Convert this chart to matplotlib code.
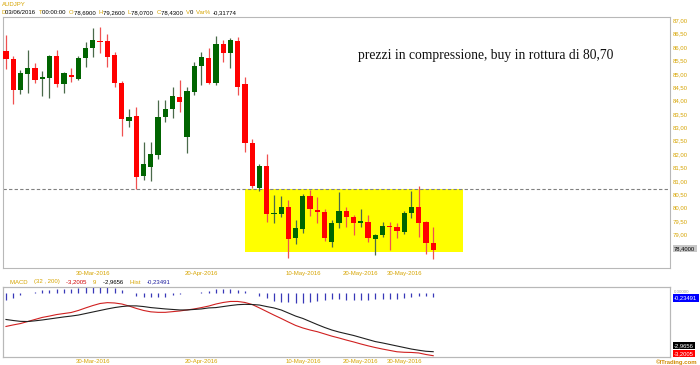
import numpy as np
import matplotlib
matplotlib.use("Agg")
import matplotlib.pyplot as plt
from matplotlib.patches import Rectangle
from matplotlib.ticker import FuncFormatter

# AUDJPY daily candles, 14-Mar-2016 .. 03-Jun-2016
opens = [85.87, 85.54, 84.39, 85.00, 85.21, 84.80, 84.83, 85.67, 84.61, 84.96,
         84.80, 85.60, 85.96, 86.23, 86.23, 85.71, 84.67, 83.25, 83.43, 81.19,
         81.51, 81.97, 83.38, 83.68, 84.15, 82.65, 84.33, 85.31, 85.60, 84.67,
         86.12, 85.79, 86.24, 84.61, 82.40, 80.74, 81.57, 79.75, 79.76, 80.03,
         78.85, 79.20, 80.45, 79.91, 79.85, 78.73, 79.44, 79.88, 79.64, 79.44,
         79.47, 78.82, 78.98, 79.31, 79.29, 79.10, 79.79, 80.01, 79.47, 78.69]
highs = [86.45, 85.67, 85.14, 85.89, 85.39, 85.12, 85.69, 85.89, 85.08, 85.21,
         85.67, 86.20, 86.70, 86.74, 86.49, 85.83, 84.75, 83.68, 83.75, 82.46,
         82.46, 84.02, 84.02, 84.52, 84.77, 84.52, 85.46, 85.81, 85.96, 86.42,
         86.27, 86.33, 86.37, 84.89, 82.55, 81.63, 81.99, 80.47, 80.45, 80.28,
         79.54, 80.50, 80.66, 80.41, 79.94, 79.54, 80.60, 80.01, 79.72, 79.94,
         79.72, 79.03, 79.47, 79.47, 79.41, 79.88, 80.63, 80.81, 79.50, 79.26]
lows = [85.18, 83.87, 84.25, 84.30, 84.65, 84.17, 84.09, 84.50, 84.30, 84.71,
        84.78, 85.27, 85.64, 85.77, 85.27, 84.50, 82.68, 83.00, 80.68, 81.03,
        81.01, 81.81, 83.21, 83.34, 83.59, 82.03, 84.21, 84.58, 84.62, 84.58,
        85.46, 85.23, 84.21, 82.09, 80.72, 80.63, 79.47, 79.41, 79.66, 78.11,
        78.64, 79.04, 79.69, 79.41, 78.77, 78.54, 79.23, 79.26, 78.98, 79.26,
        78.73, 78.23, 78.91, 78.42, 78.85, 79.03, 79.60, 78.91, 78.27, 78.07]
closes = [85.56, 84.40, 85.02, 85.21, 84.77, 84.87, 85.67, 84.61, 85.02, 84.87,
          85.60, 85.96, 86.27, 86.18, 85.64, 84.65, 83.30, 83.40, 81.16, 81.62,
          81.99, 83.40, 83.68, 84.18, 83.96, 84.36, 85.31, 85.62, 84.67, 86.12,
          85.79, 86.27, 84.52, 82.43, 80.82, 81.57, 79.75, 79.79, 80.03, 78.83,
          79.23, 80.45, 79.94, 79.85, 78.85, 79.44, 79.88, 79.64, 79.44, 79.51,
          78.85, 78.98, 79.31, 79.26, 79.13, 79.79, 80.01, 79.44, 78.69, 78.43]

# MACD (32, 200) and signal (9)
macd = [-1.48, -1.39, -1.31, -1.19, -1.07, -0.95, -0.87, -0.78, -0.72, -0.66,
        -0.54, -0.39, -0.25, -0.13, -0.08, -0.10, -0.16, -0.28, -0.42, -0.54,
        -0.62, -0.65, -0.65, -0.61, -0.57, -0.51, -0.45, -0.37, -0.28, -0.16,
        -0.07, -0.01, -0.01, -0.07, -0.19, -0.39, -0.60, -0.81, -1.01, -1.22,
        -1.42, -1.57, -1.69, -1.79, -1.92, -2.05, -2.16, -2.28, -2.39, -2.51,
        -2.62, -2.72, -2.81, -2.89, -2.97, -3.00, -3.01, -3.04, -3.13, -3.2005]
signal = [-1.07, -1.13, -1.18, -1.19, -1.15, -1.10, -1.04, -0.98, -0.92, -0.87,
          -0.81, -0.72, -0.63, -0.54, -0.45, -0.37, -0.31, -0.27, -0.27, -0.31,
          -0.37, -0.41, -0.45, -0.48, -0.51, -0.51, -0.48, -0.45, -0.39, -0.37,
          -0.31, -0.25, -0.20, -0.18, -0.19, -0.22, -0.31, -0.39, -0.51, -0.69,
          -0.87, -1.01, -1.19, -1.37, -1.54, -1.69, -1.81, -1.91, -2.01, -2.13,
          -2.25, -2.37, -2.45, -2.54, -2.63, -2.72, -2.81, -2.88, -2.94, -2.9656]

tick_idx = [12, 27, 41, 49, 55]
tick_labels = ["30-Mar-2016", "20-Apr-2016", "10-May-2016", "20-May-2016", "30-May-2016"]

breakout_level = 80.70
range_low = 78.33
range_start, range_end = 33.0, 63.1

GOLD = '#d6a400'
FRAME = '#b8b8b8'
SANS = ['Liberation Sans', 'DejaVu Sans']

plt.rcParams['font.family'] = SANS

fig = plt.figure(figsize=(7, 3.65), dpi=100)
W, H = 700, 365


def px_axes(x0, y0, x1, y1):
    return fig.add_axes([x0 / W, 1 - y1 / H, (x1 - x0) / W, (y1 - y0) / H])


ax = px_axes(3, 17, 670, 268)
ax2 = px_axes(3, 287, 670, 357)

# --- price panel
ax.add_patch(Rectangle((range_start, range_low), range_end - range_start,
                       breakout_level - range_low, facecolor='#ffff00',
                       edgecolor='none', zorder=0))
ax.axhline(breakout_level, color='#808080', lw=0.8, ls=(0, (3, 2)), zorder=1)

for i in range(len(opens)):
    o, h, l, c = opens[i], highs[i], lows[i], closes[i]
    up = c >= o
    body = '#006400' if up else '#ff0000'
    wick = '#4a6a4a' if up else '#f05050'
    ax.vlines(i, l, h, color=wick, lw=0.9, zorder=2)
    ax.add_patch(Rectangle((i - 0.36, min(o, c)), 0.72, max(abs(c - o), 0.03),
                           facecolor=body, edgecolor='none', zorder=3))

ax.set_xlim(-0.41, 91.7)
ax.set_ylim(77.743, 87.126)
ax.yaxis.tick_right()
ax.set_yticks(np.arange(79, 87.01, 0.5))
ax.yaxis.set_major_formatter(FuncFormatter(lambda v, p: f"{v:.2f}".replace('.', ',')))
ax.tick_params(axis='y', length=0, pad=2, labelsize=4.3, labelcolor=GOLD)
ax.set_xticks(tick_idx)
ax.set_xticklabels(tick_labels)
ax.tick_params(axis='x', length=0, pad=2.5, labelsize=4.3, labelcolor=GOLD)
for s in ax.spines.values():
    s.set_color(FRAME)
    s.set_linewidth(0.8)

ax.text(0.7235, 0.846, "prezzi in compressione, buy in rottura di 80,70",
        transform=ax.transAxes, ha='center', va='center', fontsize=9.8,
        family=['Liberation Serif', 'DejaVu Serif'], color='#111111')

# --- MACD panel
x = np.arange(len(macd))
ax2.plot(x, macd, color='#d02020', lw=0.8)
ax2.plot(x, signal, color='#202020', lw=0.8)
ax2.set_xlim(-0.41, 91.7)
ax2.set_ylim(-3.277, 0.84)

axh = ax2.twinx()
hist = np.array(macd) - np.array(signal)
axh.vlines(x, 0, hist, color='#3838b8', lw=0.9)
axh.set_ylim(-3.6, 0.34)
axh.set_yticks([])

ax2.set_yticks([])
ax2.set_xticks(tick_idx)
ax2.set_xticklabels(tick_labels)
ax2.tick_params(axis='x', length=0, pad=1.5, labelsize=4.3, labelcolor=GOLD)
for a in (ax2, axh):
    for s in a.spines.values():
        s.set_color(FRAME)
        s.set_linewidth(0.8)

# --- header texts
fig.text(2 / W, 1 - 4.5 / H, "AUDJPY", fontsize=4.3, color=GOLD, va='center')

renderer = fig.canvas.get_renderer()


def text_run(x_px, y_px, pieces, size):
    xp = x_px
    for s, col in pieces:
        t = fig.text(xp / W, 1 - y_px / H, s, fontsize=size, color=col, va='center')
        xp += t.get_window_extent(renderer).width


text_run(1, 12.5, [("D", GOLD), ("03/06/2016  ", 'black'), ("T", GOLD), ("00:00:00  ", 'black'),
                   ("O", GOLD), ("78,6900  ", 'black'), ("H", GOLD), ("79,2600  ", 'black'),
                   ("L", GOLD), ("78,0700  ", 'black'), ("C", GOLD), ("78,4300  ", 'black'),
                   ("V", GOLD), ("0  ", 'black'), ("Var% ", GOLD), ("-0,31774", 'black')], 4.3)

text_run(10, 282, [("MACD    ", GOLD), ("(32 , 200)    ", GOLD), ("-3,2005    ", '#d00000'),
                   ("9    ", GOLD), ("-2,9656    ", 'black'), ("Hist    ", GOLD),
                   ("-0,23491", '#2020a0')], 4.3)

# --- right value boxes
def value_box(y_px, s, fc, tc):
    fig.text(674 / W, 1 - y_px / H, s, fontsize=4.2, color=tc, va='center', ha='left',
             bbox=dict(boxstyle='square,pad=0.25', fc=fc, ec='none'))


value_box(248.5, "78,4000", '#c8c8c8', 'black')
value_box(298, "-0,23491", '#0000ff', 'white')
value_box(345.5, "-2,9656", '#000000', 'white')
value_box(353.5, "-3,2005", '#ff0000', 'white')
fig.text(674 / W, 1 - 291.5 / H, "0,00000", fontsize=3.2, color='#a0a0a0', va='center')

fig.text(697 / W, 1 - 362 / H, "\u00a9ITrading.com", fontsize=4.3, color='#d08a00',
         ha='right', va='center', fontweight='bold')

fig.savefig("out.png", dpi=100)
